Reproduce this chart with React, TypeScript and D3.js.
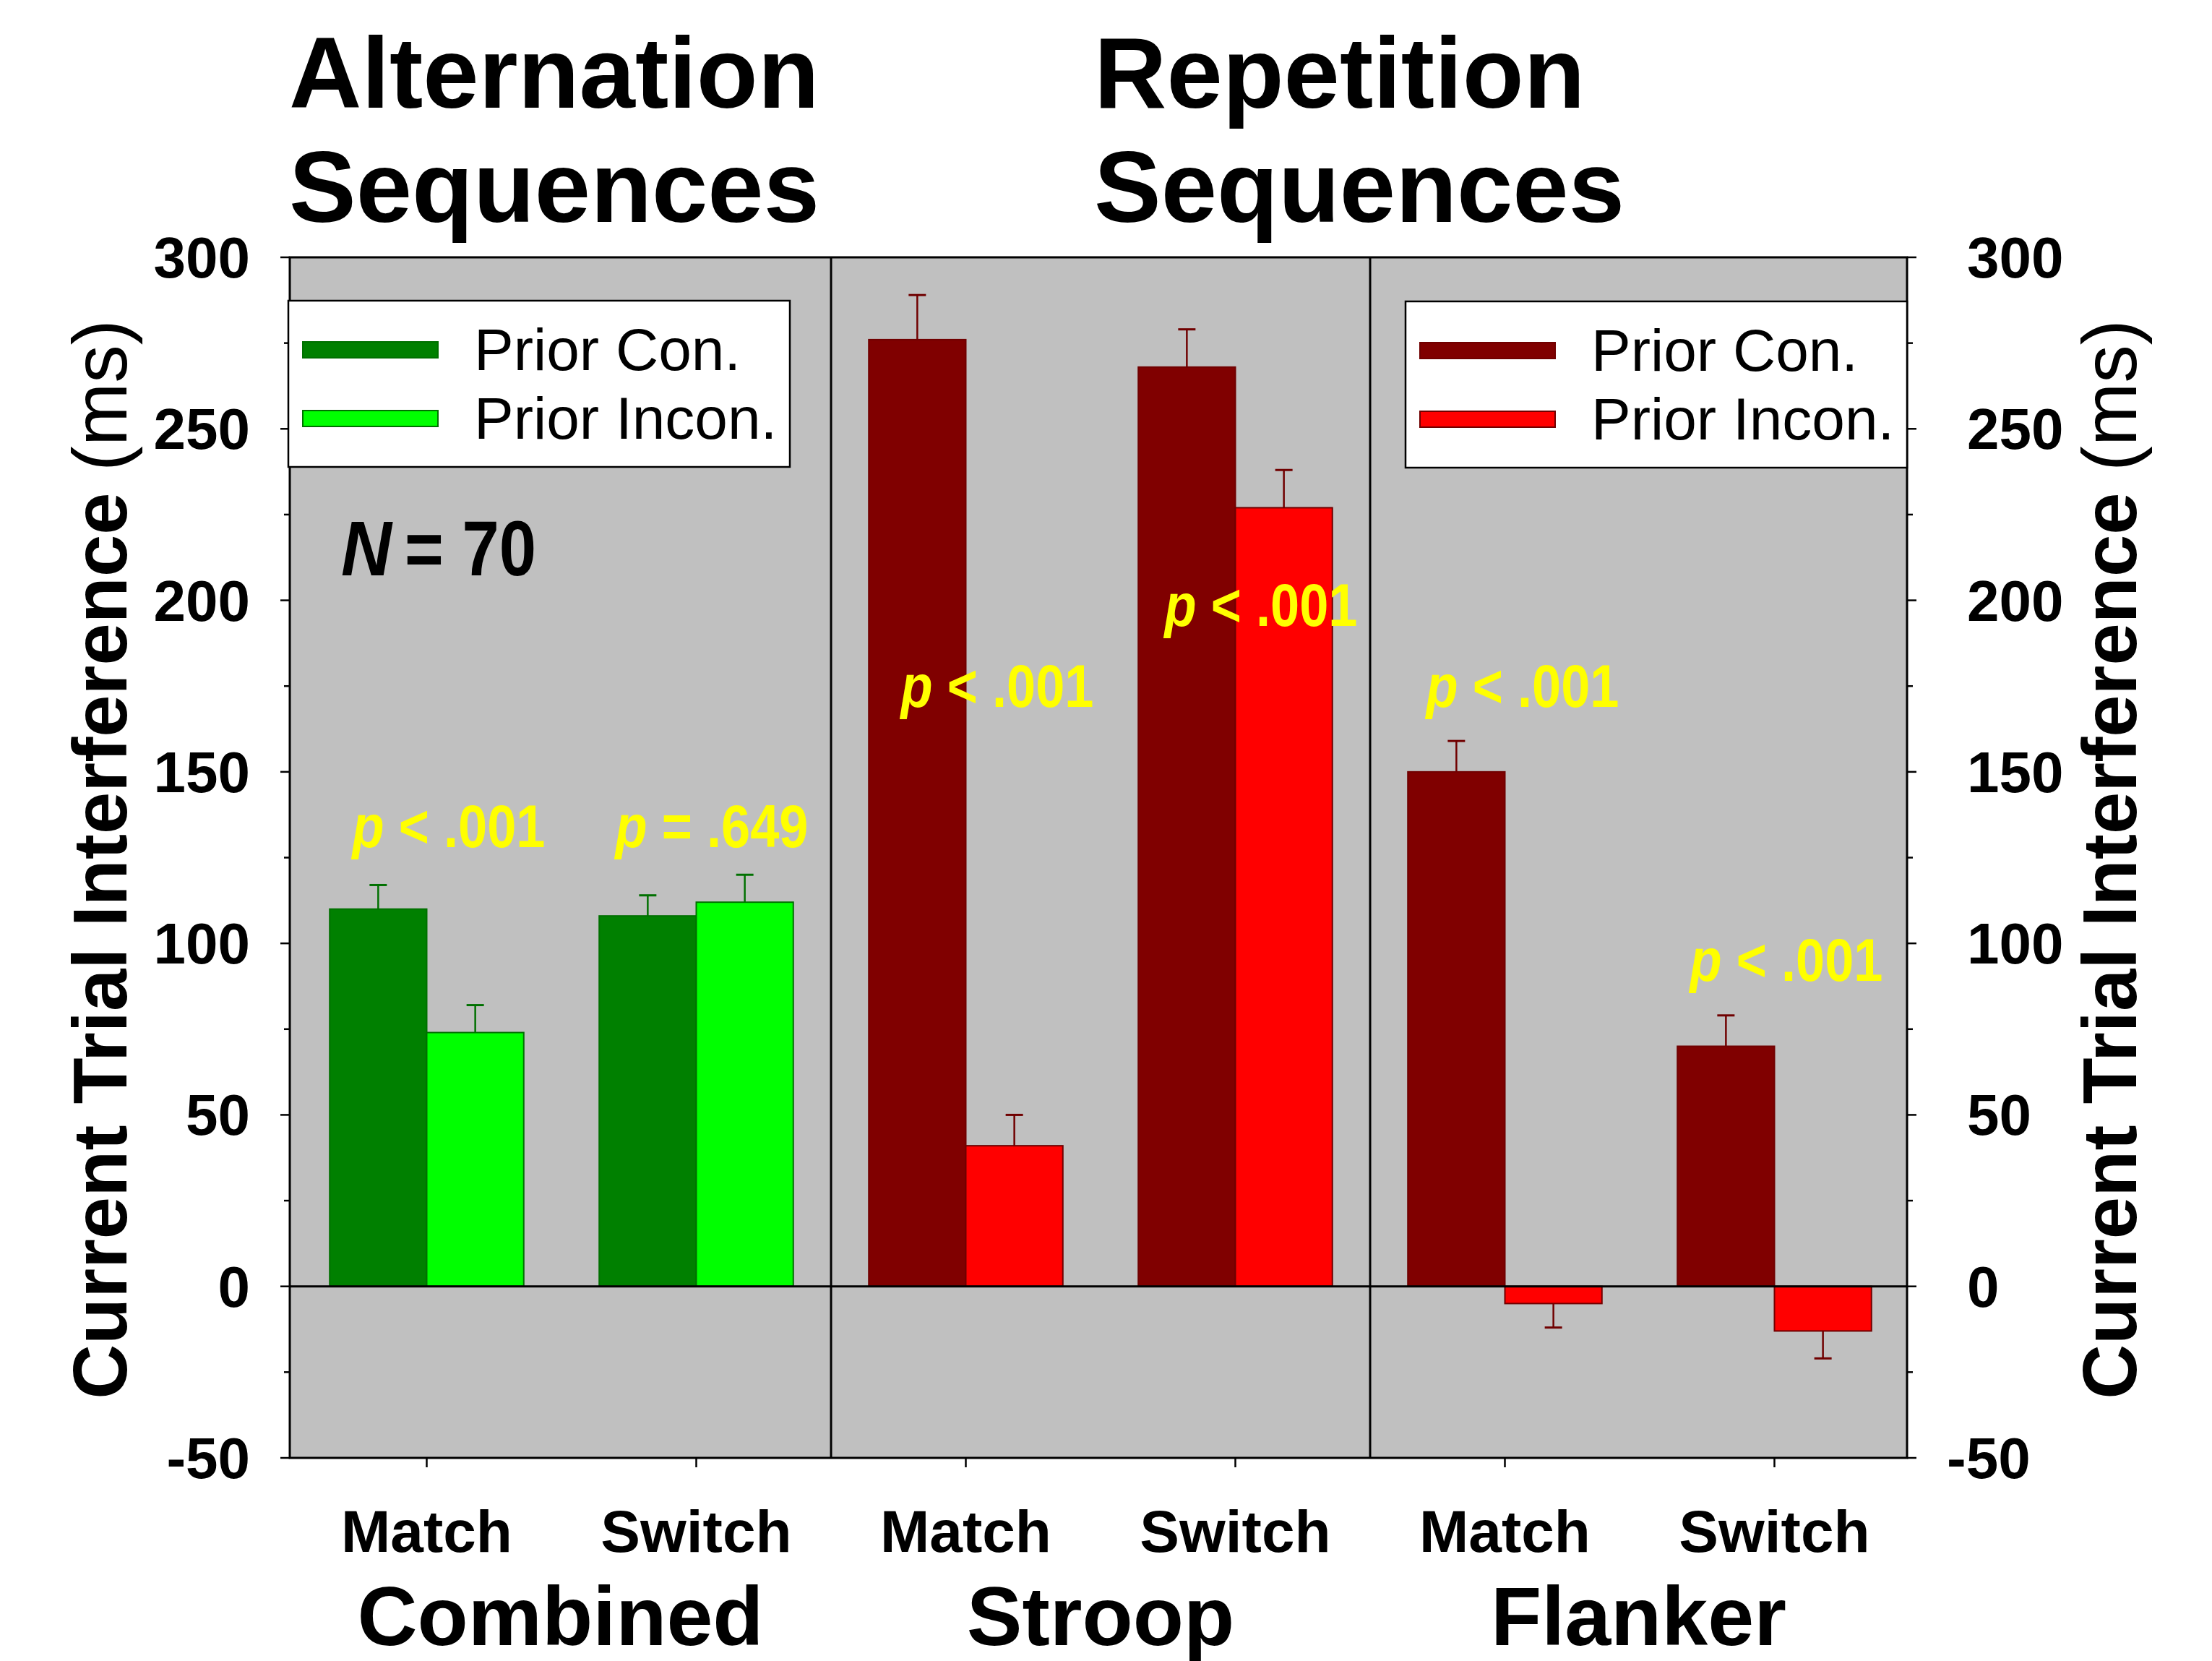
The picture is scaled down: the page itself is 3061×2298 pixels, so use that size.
import React from "react";
import * as d3 from "d3";

// values (ms)
const panels = ["Combined", "Stroop", "Flanker"];
const conditions = ["Match", "Switch"];
const priorCon = [110, 108, 276, 268, 150, 70];
const priorConErr = [7, 6, 13, 11, 9, 9];
const priorIncon = [74, 112, 41, 227, -5, -13];
const priorInconErr = [8, 8, 9, 11, 7, 8];
const pText = ["< .001", "= .649", "< .001", "< .001", "< .001", "< .001"];
const pAt = [128, 128, 169, 192.5, 169, 89];
const pShift = [30, 21, 43, 35, 24, 16];
const yTicks = [-50, 0, 50, 100, 150, 200, 250, 300];
const seriesNames = ["Prior Con.", "Prior Incon."];
const titleLines = [
  ["Alternation", "Sequences"],
  ["Repetition", "Sequences"],
];

const conFill = ["#008000", "#800000", "#800000"];
const inconFill = ["#00FF00", "#FF0000", "#FF0000"];
const edge = ["#007000", "#700000", "#700000"];

const FONT = "'Liberation Sans', Arial, Helvetica, sans-serif";

export default function App() {
  const W = 3061,
    H = 2298;
  const m = { left: 401, right: 2639, top: 356, bottom: 2017 };

  const keys = panels.flatMap((p) => conditions.map((c) => p + "-" + c));
  // categories sit a touch right of the frame in the original
  const x = d3.scaleBand().domain(keys).range([m.left + 3, m.right + 3]);
  const y = d3.scaleLinear().domain([-50, 300]).range([m.bottom, m.top]);
  const bw = x.bandwidth() * 0.36;
  const mid = (k) => x(k) + x.bandwidth() / 2;
  const minorTicks = d3.range(-50, 301, 25);
  const capW = 24;

  const panelEdges = panels.map((p, i) => [
    i === 0 ? m.left : x(keys[2 * i]),
    i === panels.length - 1 ? m.right : x(keys[2 * i + 1]) + x.bandwidth(),
  ]);

  const bars = keys.flatMap((k, i) => {
    const pi = Math.floor(i / 2);
    const c = mid(k);
    return [
      { x0: c - bw, v: priorCon[i], e: priorConErr[i], fill: conFill[pi], line: edge[pi] },
      { x0: c, v: priorIncon[i], e: priorInconErr[i], fill: inconFill[pi], line: edge[pi] },
    ];
  });

  const legend = (lx, ly, pi) => (
    <g transform={`translate(${lx},${ly})`}>
      <rect x={0} y={0} width={694} height={230} fill="#fff" stroke="#000" strokeWidth={2.5} />
      {seriesNames.map((s, j) => (
        <g key={s} transform={`translate(0,${j * 95})`}>
          <rect
            x={20}
            y={57}
            width={187}
            height={22}
            fill={j === 0 ? conFill[pi] : inconFill[pi]}
            stroke={edge[pi]}
            strokeWidth={2}
          />
          <text x={257} y={96} fontFamily={FONT} fontSize={82}>
            {s}
          </text>
        </g>
      ))}
    </g>
  );

  return (
    <svg
      width={W}
      height={H}
      style={{ position: "absolute", left: 0, top: 0, background: "#fff" }}
    >
      {/* titles */}
      {titleLines.map((lines, i) => (
        <text key={i} fontFamily={FONT} fontWeight="bold" fontSize={139}>
          {lines.map((l, j) => (
            <tspan key={j} x={i === 0 ? 400 : 1514} y={149 + j * 158}>
              {l}
            </tspan>
          ))}
        </text>
      ))}

      {/* plot background */}
      <rect x={m.left} y={m.top} width={m.right - m.left} height={m.bottom - m.top} fill="#C0C0C0" />

      {/* bars */}
      {bars.map((b, i) => (
        <rect
          key={"b" + i}
          x={b.x0}
          y={y(Math.max(b.v, 0))}
          width={bw}
          height={Math.abs(y(b.v) - y(0))}
          fill={b.fill}
          stroke={b.line}
          strokeWidth={2}
        />
      ))}

      {/* error bars, one-sided */}
      {bars.map((b, i) => {
        const cx = b.x0 + bw / 2;
        const tip = b.v >= 0 ? b.v + b.e : b.v - b.e;
        return (
          <g key={"e" + i} stroke={b.line} strokeWidth={2.5}>
            <line x1={cx} x2={cx} y1={y(b.v)} y2={y(tip)} />
            <line x1={cx - capW / 2} x2={cx + capW / 2} y1={y(tip)} y2={y(tip)} strokeWidth={3} />
          </g>
        );
      })}

      {/* zero line */}
      <line x1={m.left} x2={m.right} y1={y(0)} y2={y(0)} stroke="#000" strokeWidth={3} />

      {/* panel dividers */}
      {panelEdges.slice(1).map((pe, i) => (
        <line key={"d" + i} x1={pe[0]} x2={pe[0]} y1={m.top} y2={m.bottom} stroke="#000" strokeWidth={3} />
      ))}

      {/* frame */}
      <rect
        x={m.left}
        y={m.top}
        width={m.right - m.left}
        height={m.bottom - m.top}
        fill="none"
        stroke="#000"
        strokeWidth={3}
      />

      {/* y ticks both sides */}
      {minorTicks.map((t) => {
        const len = t % 50 === 0 ? 13 : 8;
        return (
          <g key={"t" + t} stroke="#000" strokeWidth={2.5}>
            <line x1={m.left - len} x2={m.left} y1={y(t)} y2={y(t)} />
            <line x1={m.right} x2={m.right + len} y1={y(t)} y2={y(t)} />
          </g>
        );
      })}
      {yTicks.map((t) => (
        <g key={"yl" + t} fontFamily={FONT} fontWeight="bold" fontSize={80}>
          <text x={346} y={y(t) + 28} textAnchor="end">
            {t}
          </text>
          <text x={2722 - (t < 0 ? 28 : 0)} y={y(t) + 28}>
            {t}
          </text>
        </g>
      ))}

      {/* x ticks and labels */}
      {keys.map((k, i) => (
        <g key={"x" + k}>
          <line x1={mid(k)} x2={mid(k)} y1={m.bottom} y2={m.bottom + 13} stroke="#000" strokeWidth={2.5} />
          <text
            x={mid(k)}
            y={2147}
            textAnchor="middle"
            fontFamily={FONT}
            fontWeight="bold"
            fontSize={82}
          >
            {conditions[i % 2]}
          </text>
        </g>
      ))}
      {panels.map((p, i) => (
        <text
          key={"p" + p}
          x={(panelEdges[i][0] + panelEdges[i][1]) / 2}
          y={2276}
          textAnchor="middle"
          fontFamily={FONT}
          fontWeight="bold"
          fontSize={115}
        >
          {p}
        </text>
      ))}

      {/* axis titles */}
      {[175, 2956].map((bx) => (
        <text
          key={"at" + bx}
          transform={`translate(${bx},1189) rotate(-90)`}
          textAnchor="middle"
          fontFamily={FONT}
          fontSize={105}
        >
          <tspan fontWeight="bold">Current Trial Interference </tspan>
          <tspan>(ms)</tspan>
        </text>
      ))}

      {/* legends */}
      {legend(399, 416, 0)}
      {legend(1945, 417, 1)}

      {/* N */}
      <g fontFamily={FONT} fontWeight="bold" fontSize={107}>
        <text x={472} y={796} fontStyle="italic" textLength={70} lengthAdjust="spacingAndGlyphs">
          N
        </text>
        <text x={560} y={796} textLength={182} lengthAdjust="spacingAndGlyphs">
          = 70
        </text>
      </g>

      {/* p values */}
      {keys.map((k, i) => (
        <text
          key={"pv" + k}
          x={mid(k) + pShift[i] - 133}
          y={y(pAt[i])}
          fill="#FFFF00"
          fontFamily={FONT}
          fontWeight="bold"
          fontSize={84}
          textLength={267}
          lengthAdjust="spacingAndGlyphs"
        >
          <tspan fontStyle="italic">p</tspan>
          <tspan> {pText[i]}</tspan>
        </text>
      ))}
    </svg>
  );
}
